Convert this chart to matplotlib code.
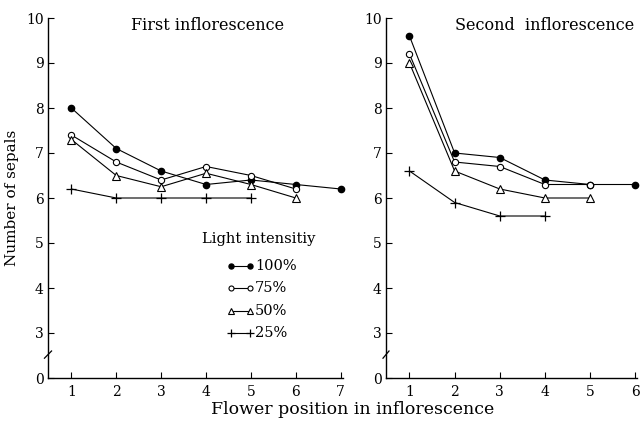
import matplotlib
matplotlib.use("Agg")
import matplotlib.pyplot as plt
from matplotlib.lines import Line2D

plt.rcParams['font.family'] = ['DejaVu Serif']

# Number of sepals by flower position, for each light intensity
first_pos = [1, 2, 3, 4, 5, 6, 7]
first_100 = [8.0, 7.1, 6.6, 6.3, 6.4, 6.3, 6.2]
first_75 = [7.4, 6.8, 6.4, 6.7, 6.5, 6.2]
first_50 = [7.3, 6.5, 6.25, 6.55, 6.3, 6.0]
first_25 = [6.2, 6.0, 6.0, 6.0, 6.0]

second_pos = [1, 2, 3, 4, 5, 6]
second_100 = [9.6, 7.0, 6.9, 6.4, 6.3, 6.3]
second_75 = [9.2, 6.8, 6.7, 6.3, 6.3]
second_50 = [9.0, 6.6, 6.2, 6.0, 6.0]
second_25 = [6.6, 5.9, 5.6, 5.6]

levels = ['100%', '75%', '50%', '25%']
ytick_vals = [0, 3, 4, 5, 6, 7, 8, 9, 10]

styles = {
    '100%': dict(marker='o', ms=4.5, mfc='black', mec='black'),
    '75%': dict(marker='o', ms=4.5, mfc='white', mec='black', mew=0.8),
    '50%': dict(marker='^', ms=6, mfc='white', mec='black', mew=0.8),
    '25%': dict(marker='+', ms=7, mfc='black', mec='black', mew=0.9),
}


def to_axis(v):
    # the axis is broken between 0 and 3: 0 sits one unit below 3
    return v if v >= 3 else 2


fig = plt.figure(figsize=(6.41, 4.21), dpi=100)
ax1 = fig.add_axes([48 / 641, 1 - 378 / 421, 295 / 641, 360 / 421])
ax2 = fig.add_axes([386 / 641, 1 - 378 / 421, 251 / 641, 360 / 421])


def draw_panel(ax, pos, series, xmax, title, title_x):
    for lev, vals in zip(levels, series):
        ax.plot(pos[:len(vals)], vals, color='black', lw=0.8,
                zorder=3, clip_on=False, **styles[lev])
    ax.set_xlim(0.48, xmax)
    ax.set_ylim(2, 10)
    ax.set_xticks(pos)
    ax.set_xticklabels([str(p) for p in pos], fontsize=10)
    ax.set_yticks([to_axis(v) for v in ytick_vals])
    ax.set_yticklabels([str(v) for v in ytick_vals], fontsize=10)
    for s in ('top', 'right'):
        ax.spines[s].set_visible(False)
    for s in ('left', 'bottom'):
        ax.spines[s].set_linewidth(1.0)
    ax.tick_params(direction='in', length=4, width=0.8, pad=5)
    ax.tick_params(axis='y', pad=3)
    # break mark on the y axis
    ax.plot([-0.012, 0.012], [0.055, 0.075], transform=ax.transAxes,
            color='black', lw=0.9, clip_on=False)
    ax.text(title_x, 0.98, title, transform=ax.transAxes, fontsize=11.5,
            ha='center', va='center')


draw_panel(ax1, first_pos, [first_100, first_75, first_50, first_25],
           7.05, 'First inflorescence', 0.54)
draw_panel(ax2, second_pos, [second_100, second_75, second_50, second_25],
           6.04, 'Second  inflorescence', 0.63)

ax1.set_ylabel('Number of sepals', fontsize=11, labelpad=5)
fig.text(353 / 641, 1 - 410 / 421, 'Flower position in inflorescence',
         ha='center', va='center', fontsize=12.5)

# legend drawn as a small key inside the first panel
fig.text(202 / 641, 1 - 239 / 421, 'Light intensitiy', fontsize=10.5,
         ha='left', va='center')
key_y = [266, 288, 311, 333]
for lev, yy in zip(levels, key_y):
    yf = 1 - yy / 421
    fig.add_artist(Line2D([231 / 641, 250 / 641], [yf, yf], color='black',
                          lw=0.8, transform=fig.transFigure,
                          **{**styles[lev], 'ms': styles[lev]['ms'] * 0.8}))
    fig.text(255 / 641, yf, lev, fontsize=10.5,
             ha='left', va='center')

fig.savefig('out.png', dpi=100)
